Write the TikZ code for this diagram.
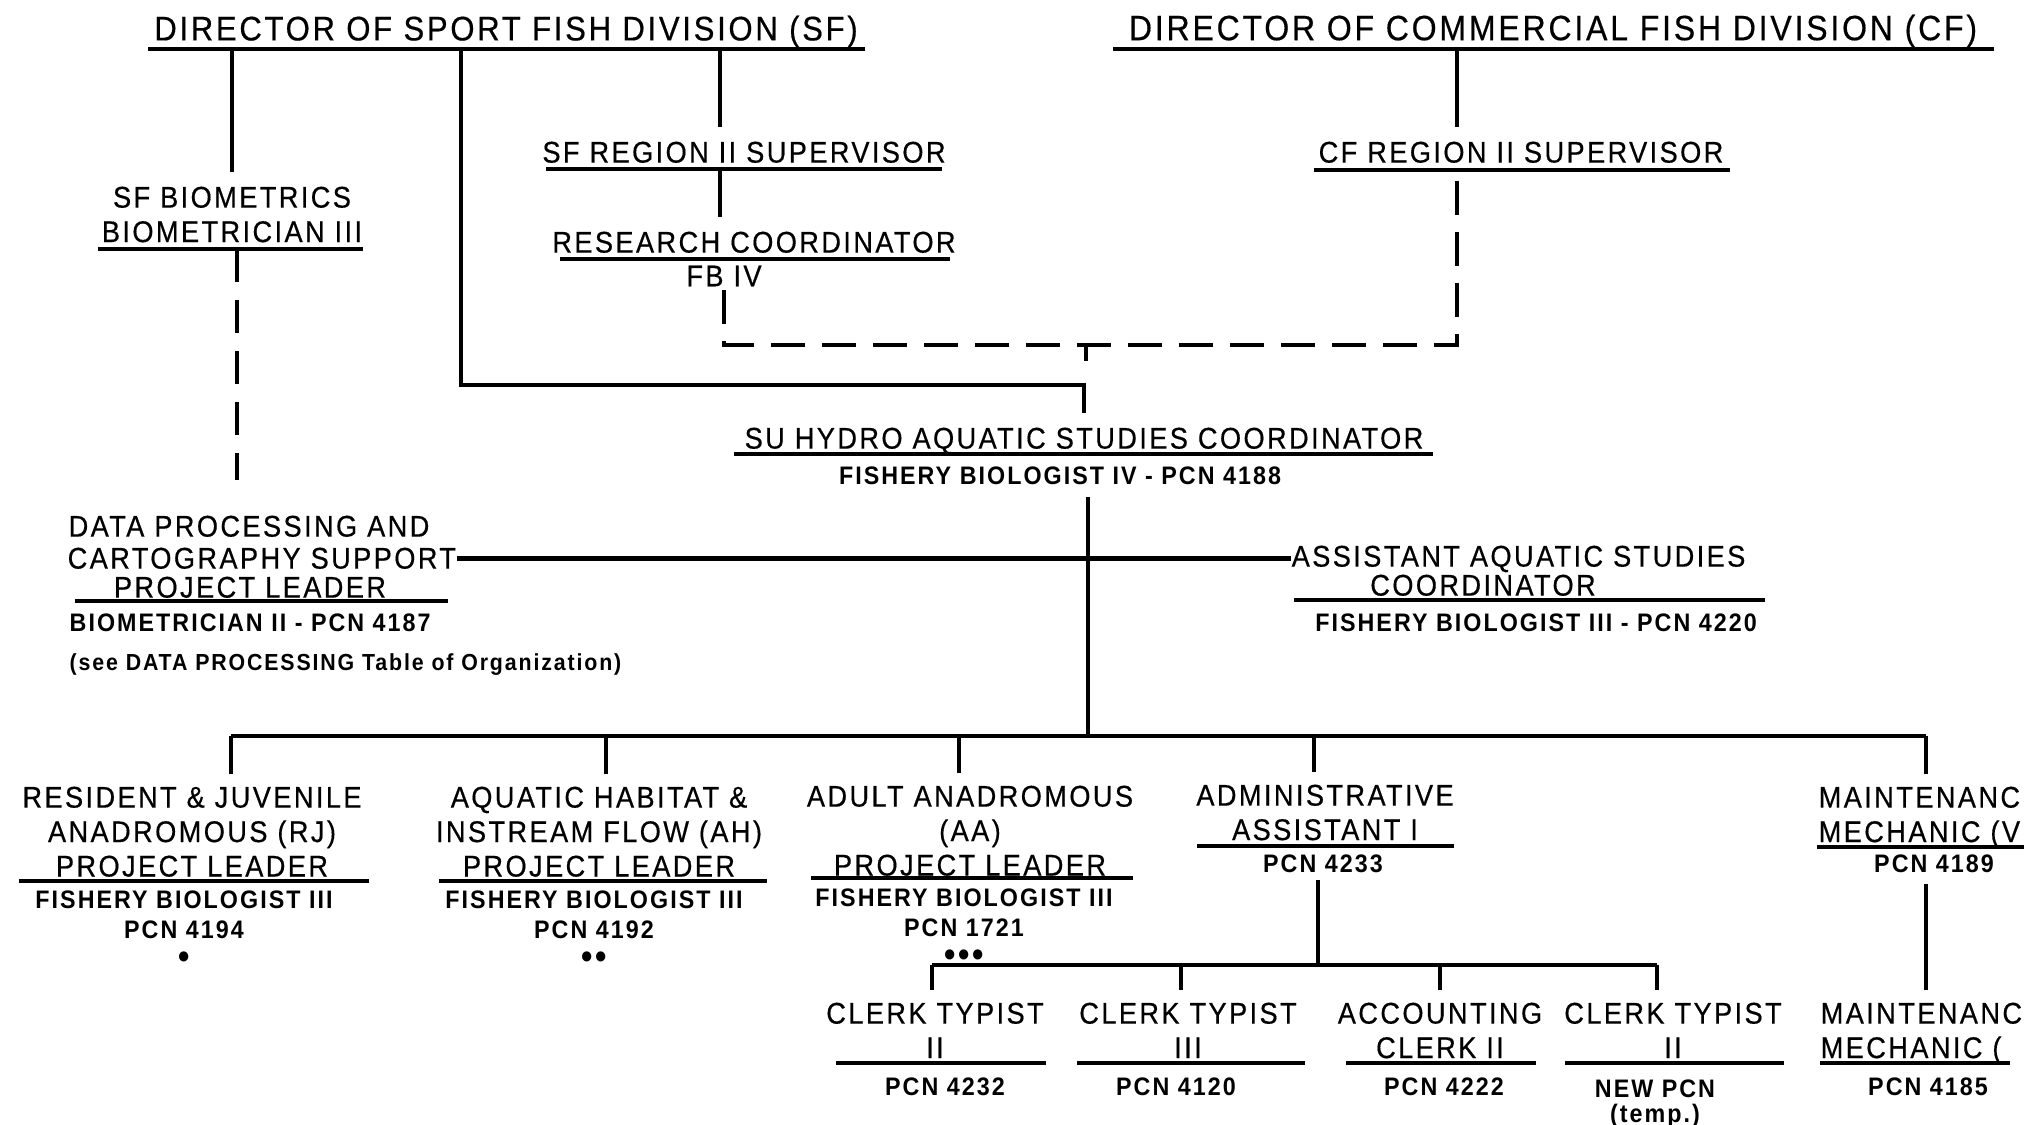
\documentclass[tikz,border=0pt]{standalone}
\usepackage{fontspec}
\setmainfont{Liberation Sans}
\newfontfamily\letterfont{Liberation Sans}[FakeStretch=0.91, LetterSpace=8, FakeBold=0.45]
\newfontfamily\boldletterfont{Liberation Sans}[FakeStretch=0.92, LetterSpace=8]
\begin{document}
\begin{tikzpicture}[x=0.01cm, y=-0.01cm,
    divhead/.style={font=\letterfont\fontsize{10}{12}\selectfont, inner sep=0pt, anchor=north},
    head/.style={font=\letterfont\fontsize{8.5}{9.8}\selectfont, align=center, inner sep=0pt, anchor=north},
    sub/.style={font=\boldletterfont\bfseries\fontsize{7.2}{8.5}\selectfont, align=center, inner sep=0pt, anchor=north},
    link/.style={line width=1.3pt},
    dashlink/.style={line width=1.3pt, dash pattern=on 9.5pt off 5pt},
    rule/.style={line width=0.9pt}]
    \useasboundingbox (0,0) rectangle (2024,1124);
    %Divisions
    \node[divhead, font=\letterfont\fontsize{9.7}{12}\selectfont] (sfdir) at (506,15) {DIRECTOR OF SPORT FISH DIVISION (SF)};
    \node[divhead] (cfdir) at (1553,14) {DIRECTOR OF COMMERCIAL FISH DIVISION (CF)};
    \draw[rule] (148,49) -- (865,49);
    \draw[rule] (1113,49) -- (1994,49);
    \coordinate (divbar) at (0,49);
    %Sport fish side
    \node[head] (sfbio) at (232,186) {SF BIOMETRICS\\BIOMETRICIAN III};
    \draw[rule] (98,249) -- (363,249);
    \node[head] (sfreg) at (744,141) {SF REGION II SUPERVISOR};
    \draw[rule] (546,169) -- (942,169);
    \node[head] (rescoord) at (754,231) {RESEARCH COORDINATOR};
    \draw[rule] (560,259) -- (950,259);
    \node[head] (fbiv) at (724,265) {FB IV};
    %Commercial fish side
    \node[head] (cfreg) at (1521,141) {CF REGION II SUPERVISOR};
    \draw[rule] (1314,170) -- (1730,170);
    %Coordinator
    \node[head] (suhydro) at (1084,427) {SU HYDRO AQUATIC STUDIES COORDINATOR};
    \draw[rule] (734,454) -- (1433,454);
    \node[sub] (suhydrosub) at (1060,466) {FISHERY BIOLOGIST IV - PCN 4188};
    %Data processing
    \node[head, anchor=north west] (dpa) at (68,515) {DATA PROCESSING AND};
    \node[head, anchor=north west] (dpb) at (67,547) {CARTOGRAPHY SUPPORT};
    \node[head] (dpl) at (250,576) {PROJECT LEADER};
    \draw[rule] (75,601) -- (448,601);
    \node[sub, anchor=north west] (dps) at (69,613) {BIOMETRICIAN II - PCN 4187};
    \node[sub, anchor=north west, font=\boldletterfont\bfseries\fontsize{6.6}{8}\selectfont] (dpn) at (69,653) {(see DATA PROCESSING Table of Organization)};
    %Assistant
    \node[head, anchor=north west] (asa) at (1291,545) {ASSISTANT AQUATIC STUDIES};
    \node[head] (asb) at (1483,574) {COORDINATOR};
    \draw[rule] (1294,600) -- (1765,600);
    \node[sub] (ass) at (1536,613) {FISHERY BIOLOGIST III - PCN 4220};
    %Project leaders
    \node[head] (rj) at (192,786) {RESIDENT \& JUVENILE\\ANADROMOUS (RJ)\\PROJECT LEADER};
    \draw[rule] (19,881) -- (369,881);
    \node[sub] (rjs) at (184,890) {FISHERY BIOLOGIST III\\PCN 4194\\{\fontsize{10}{8.5}\selectfont•}};
    \node[head] (ah) at (599,786) {AQUATIC HABITAT \&\\INSTREAM FLOW (AH)\\PROJECT LEADER};
    \draw[rule] (439,881) -- (767,881);
    \node[sub] (ahs) at (594,890) {FISHERY BIOLOGIST III\\PCN 4192\\{\fontsize{10}{8.5}\selectfont••}};
    \node[head] (aa) at (970,785) {ADULT ANADROMOUS\\(AA)\\PROJECT LEADER};
    \draw[rule] (811,878) -- (1133,878);
    \node[sub] (aas) at (964,888) {FISHERY BIOLOGIST III\\PCN 1721\\{\fontsize{10}{8.5}\selectfont•••}};
    \node[head] (adm) at (1325,784) {ADMINISTRATIVE\\ASSISTANT I};
    \draw[rule] (1197,846) -- (1454,846);
    \node[sub] (adms) at (1323,854) {PCN 4233};
    \node[head, anchor=north west, align=left] (mnt) at (1818,786) {MAINTENANC\\MECHANIC (V};
    \draw[rule] (1817,847) -- (2024,847);
    \node[sub] (mnts) at (1934,854) {PCN 4189};
    %Clerks
    \node[head] (cta) at (935,1002) {CLERK TYPIST\\II};
    \draw[rule] (836,1063) -- (1046,1063);
    \node[sub] (ctas) at (945,1077) {PCN 4232};
    \node[head] (ctb) at (1188,1002) {CLERK TYPIST\\III};
    \draw[rule] (1077,1063) -- (1305,1063);
    \node[sub] (ctbs) at (1176,1077) {PCN 4120};
    \node[head] (acc) at (1440,1002) {ACCOUNTING\\CLERK II};
    \draw[rule] (1346,1063) -- (1536,1063);
    \node[sub] (accs) at (1444,1077) {PCN 4222};
    \node[head] (ctc) at (1673,1002) {CLERK TYPIST\\II};
    \draw[rule] (1565,1063) -- (1784,1063);
    \node[sub] (ctcs) at (1655,1079) {NEW PCN\\[-1.5pt](temp.)};
    \node[head, anchor=north west, align=left] (mnt2) at (1820,1002) {MAINTENANC\\MECHANIC (};
    \draw[rule] (1820,1063) -- (2010,1063);
    \node[sub] (mnt2s) at (1928,1077) {PCN 4185};
    %Lines of command
    \coordinate (sfx) at (720,169);
    \coordinate (sflong) at (461,385);
    \coordinate (biox) at (237,249);
    \coordinate (tee) at (1086,345);
    \coordinate (cfx) at (1457,170);
    \draw[link, shorten >=4pt] (divbar -| sfbio.north) -- (sfbio.north);
    \draw[dashlink, shorten >=10pt] (biox) -- (biox |- dpa.north);
    \draw[link, shorten >=4pt] (divbar -| sfx) -- (sfx |- sfreg.north);
    \draw[link, shorten >=4pt] (sfx) -- (sfx |- rescoord.north);
    \draw[link, shorten >=4pt] (divbar -| sflong) -- (sflong) -| (suhydro.north);
    \draw[link, shorten >=4pt] (divbar -| cfx) -- (cfx |- cfreg.north);
    \draw[dashlink, shorten <=1pt] (fbiv.south) |- (tee) -| (cfx);
    \draw[link] (tee) -- ++(0,16);
    %Coordinator to staff
    \coordinate (spine) at (1088,736);
    \draw[link, shorten <=3.4pt] (spine |- suhydrosub.south) -- (spine);
    \draw[link] (dpb.east) -- (dpb.east -| asa.west);
    \coordinate (drj) at (231,736);
    \coordinate (dah) at (606,736);
    \coordinate (daa) at (959,736);
    \coordinate (dadm) at (1314,736);
    \coordinate (dmnt) at (1926,736);
    \draw[link] (drj) -- (dmnt);
    \foreach \d/\n in {drj/rj, dah/ah, daa/aa, dadm/adm, dmnt/mnt}
        \draw[link, shorten >=3.5pt] (\d) -- (\d |- \n.north);
    %Administrative staff
    \coordinate (dadmb) at (1318,965);
    \coordinate (dcta) at (932,965);
    \coordinate (dctb) at (1181,965);
    \coordinate (dacc) at (1440,965);
    \coordinate (dctc) at (1657,965);
    \draw[link, shorten <=2pt] (adms.south -| dadmb) -- (dadmb);
    \draw[link] (dcta) -- (dctc);
    \foreach \d/\n in {dcta/cta, dctb/ctb, dacc/acc, dctc/ctc}
        \draw[link, shorten >=3.5pt] (\d) -- (\d |- \n.north);
    \draw[link, shorten <=3pt, shorten >=3.5pt] (mnts.south -| dmnt) -- (dmnt |- mnt2.north);
\end{tikzpicture}
\end{document}
